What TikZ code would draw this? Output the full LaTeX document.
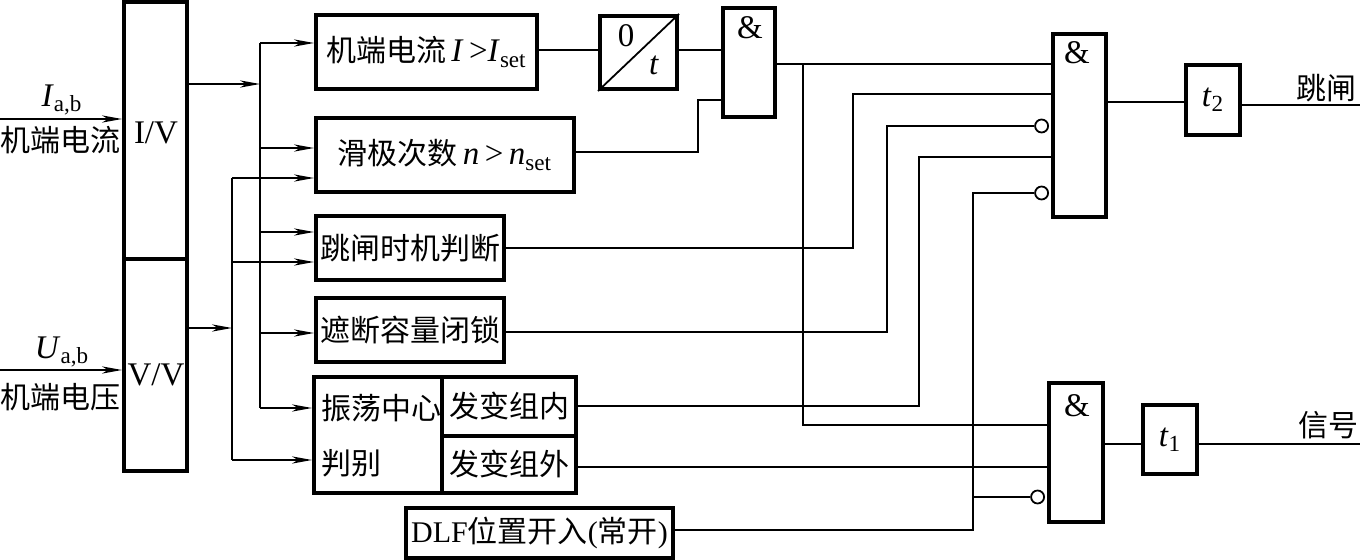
\documentclass[tikz,border=0pt]{standalone}
\usepackage{fontspec}
\setmainfont{Liberation Serif}
\newfontfamily\cjk{Noto Sans CJK SC}
\usetikzlibrary{arrows.meta}
\newcommand\zh[1]{{\cjk #1}}
\newcommand\lat{\fontsize{16.5}{18}\selectfont}
\begin{document}
\begin{tikzpicture}[x=0.5pt,y=-0.5pt,
  blk/.style={draw,line width=2pt,rectangle,inner sep=0pt,font=\fontsize{15}{17}\selectfont},
  wire/.style={line width=0.9pt},
  arr/.style={wire,-{Stealth[length=10pt,width=3.6pt,inset=3pt]}},
  bub/.style={circle,draw,line width=0.9pt,minimum size=6.5pt,inner sep=0pt,fill=white},
  txt/.style={inner sep=0pt,font=\fontsize{15}{17}\selectfont},
  ltxt/.style={inner sep=0pt,font=\lat},
]
\useasboundingbox (0,0) rectangle (1360,560);

% blocks
\node[blk,minimum width=31.5pt,minimum height=128.5pt] (iv) at (155.5,130.5) {};
\node[ltxt] (ivt) at (156,133) {I/V};
\node[blk,minimum width=31.5pt,minimum height=106pt] (vv) at (155.5,365) {};
\node[ltxt] (vvt) at (156,375) {V/V};

\node[blk,minimum width=110.5pt,minimum height=37pt] (b1) at (426.5,52)
  {\zh{机端电流}\,{\lat\textit{I}\,>\textit{I}\textsubscript{set}}};
\node[blk,minimum width=38.5pt,minimum height=36.5pt] (tm) at (638.5,52.5) {};
\node[blk,minimum width=26pt,minimum height=54.5pt] (a1) at (749,62.5) {};
\node[blk,minimum width=129pt,minimum height=37pt] (b2) at (445,155)
  {\zh{滑极次数}\,{\lat\textit{n}\,>\,\textit{n}\textsubscript{set}}};
\node[blk,minimum width=94pt,minimum height=32pt] (b3) at (410,248) {\zh{跳闸时机判断}};
\node[blk,minimum width=94pt,minimum height=32pt] (b4) at (410,330) {\zh{遮断容量闭锁}};
\node[blk,minimum width=64pt,minimum height=58pt] (b5) at (378,435) {};
\node[blk,minimum width=67pt,minimum height=29.5pt] (b6) at (509,406.5) {\zh{发变组内}};
\node[blk,minimum width=67pt,minimum height=28.5pt] (b7) at (509,464.5) {\zh{发变组外}};
\node[blk,minimum width=133.5pt,minimum height=25pt] (dlf) at (539.5,533)
  {DLF\zh{位置开入}(\zh{常开})};
\node[blk,minimum width=26.5pt,minimum height=91.5pt] (a2) at (1079.5,125.5) {};
\node[blk,minimum width=27pt,minimum height=35pt,font=\lat] (t2) at (1213,100) {\textit{t}\textsubscript{2}};
\node[blk,minimum width=27pt,minimum height=69.5pt] (a3) at (1076,452.5) {};
\node[blk,minimum width=27pt,minimum height=34.5pt,font=\lat] (t1) at (1170,439.5) {\textit{t}\textsubscript{1}};

\node[txt,anchor=west] (b5a) at (321,408) {\zh{振荡中心}};
\node[txt,anchor=west] (b5b) at (321,463) {\zh{判别}};
\node[ltxt] (m1) at (750,28) {\&};
\node[ltxt] (m2) at (1077,53) {\&};
\node[ltxt] (m3) at (1077,406) {\&};
\node[ltxt] (tz) at (626,36) {0};
\node[ltxt] (tt) at (654,65) {\textit{t}};
\draw[wire] (tm.south west) -- (tm.north east);

% input labels
\node[ltxt] (lI) at (62,100) {\textit{I}\textsubscript{a,b}};
\node[txt] (lIz) at (60,140) {\zh{机端电流}};
\node[ltxt] (lU) at (62,352) {\textit{U}\textsubscript{a,b}};
\node[txt] (lUz) at (60,397) {\zh{机端电压}};
\node[txt] (oT) at (1326,88) {\zh{跳闸}};
\node[txt] (oS) at (1328,425) {\zh{信号}};

% inputs
\coordinate (inI) at (0,119);
\draw[arr] (inI) -- (inI -| iv.west);
\coordinate (inU) at (0,370);
\draw[arr] (inU) -- (inU -| vv.west);

% bus A (from I/V)
\coordinate (jA) at (260,84);
\draw[arr] (iv.east |- jA) -- (jA);
\coordinate (jAt) at (260,43);
\coordinate (jAb) at (260,408);
\draw[wire] (jAt) -- (jAb);
\draw[arr] (jAt) -- (jAt -| b1.west);
\coordinate (jA2) at (260,148);
\draw[arr] (jA2) -- (jA2 -| b2.west);
\coordinate (jA3) at (260,232);
\draw[arr] (jA3) -- (jA3 -| b3.west);
\coordinate (jA4) at (260,333);
\draw[arr] (jA4) -- (jA4 -| b4.west);
\draw[arr] (jAb) -- (jAb -| b5.west);

% bus B (from V/V)
\coordinate (jB) at (232,328);
\draw[arr] (vv.east |- jB) -- (jB);
\coordinate (jBt) at (232,178);
\coordinate (jBb) at (232,460);
\draw[wire] (jBt) -- (jBb);
\draw[arr] (jBt) -- (jBt -| b2.west);
\coordinate (jB3) at (232,262);
\draw[arr] (jB3) -- (jB3 -| b3.west);
\draw[arr] (jBb) -- (jBb -| b5.west);

% top chain
\coordinate (r1) at (0,50);
\draw[wire] (b1.east |- r1) -- (tm.west |- r1);
\draw[wire] (tm.east |- r1) -- (a1.west |- r1);
\coordinate (r2) at (698,152);
\coordinate (r2b) at (698,100);
\draw[wire] (b2.east |- r2) -- (r2) -- (r2b) -- (r2b -| a1.west);

% to AND gates
\coordinate (c1) at (803,64);
\draw[wire] (a1.east |- c1) -- (c1 -| a2.west);
\coordinate (c1b) at (803,425);
\draw[wire] (c1) -- (c1b) -- (c1b -| a3.west);

\coordinate (c2) at (853,248);
\coordinate (c2t) at (853,94);
\draw[wire] (b3.east |- c2) -- (c2) -- (c2t) -- (c2t -| a2.west);

\coordinate (c3) at (887,332);
\coordinate (c3t) at (887,126);
\node[bub,anchor=east,xshift=-1pt] (n1) at (c3t -| a2.west) {};
\draw[wire] (b4.east |- c3) -- (c3) -- (c3t) -- (n1.west);

\coordinate (c4) at (919,406);
\coordinate (c4t) at (919,157);
\draw[wire] (b6.east |- c4) -- (c4) -- (c4t) -- (c4t -| a2.west);

\coordinate (c5) at (973,530);
\coordinate (c5t) at (973,193);
\coordinate (c5m) at (973,497);
\node[bub,anchor=east,xshift=-1pt] (n2) at (c5t -| a2.west) {};
\node[bub,anchor=east,xshift=-1pt] (n3) at (c5m -| a3.west) {};
\draw[wire] (dlf.east |- c5) -- (c5) -- (c5t) -- (n2.west);
\draw[wire] (c5m) -- (n3.west);

\coordinate (c6) at (0,467);
\draw[wire] (b7.east |- c6) -- (c6 -| a3.west);

% outputs
\coordinate (o2) at (0,102);
\draw[wire] (a2.east |- o2) -- (t2.west |- o2);
\coordinate (o2b) at (1360,105);
\draw[wire] (t2.east |- o2b) -- (o2b);
\coordinate (o1) at (1360,444);
\draw[wire] (a3.east |- o1) -- (t1.west |- o1);
\draw[wire] (t1.east |- o1) -- (o1);
\end{tikzpicture}
\end{document}
